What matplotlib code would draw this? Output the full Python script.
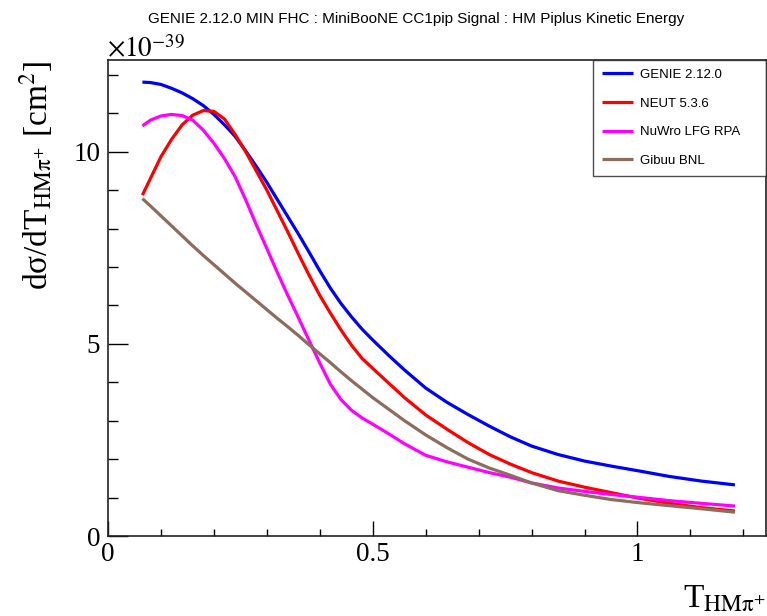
import matplotlib
matplotlib.use("Agg")
import matplotlib.pyplot as plt
from matplotlib.ticker import MultipleLocator

# ---- data (units of 1e-39 cm^2) ----
t_hm = [0.065, 0.08, 0.10, 0.12, 0.14, 0.16, 0.18, 0.20, 0.22, 0.24, 0.26, 0.28, 0.30,
        0.32, 0.34, 0.36, 0.38, 0.40, 0.42, 0.44, 0.46, 0.48, 0.50, 0.53, 0.56, 0.60,
        0.64, 0.68, 0.72, 0.76, 0.80, 0.85, 0.90, 0.95, 1.00, 1.06, 1.12, 1.184]
genie = [11.81, 11.80, 11.75, 11.65, 11.53, 11.38, 11.20, 10.97, 10.70, 10.40, 10.02, 9.62, 9.20,
         8.75, 8.30, 7.85, 7.38, 6.90, 6.45, 6.05, 5.70, 5.38, 5.10, 4.70, 4.32, 3.85,
         3.48, 3.16, 2.86, 2.58, 2.34, 2.12, 1.95, 1.82, 1.70, 1.55, 1.43, 1.33]
neut = [8.87, 9.30, 9.87, 10.32, 10.70, 10.95, 11.07, 11.05, 10.85, 10.45, 10.00, 9.50, 9.00,
        8.45, 7.90, 7.33, 6.78, 6.26, 5.80, 5.36, 4.96, 4.62, 4.36, 3.98, 3.60, 3.15,
        2.78, 2.43, 2.12, 1.87, 1.65, 1.43, 1.27, 1.13, 0.99, 0.85, 0.74, 0.65]
nuwro = [10.67, 10.82, 10.93, 10.97, 10.94, 10.82, 10.56, 10.22, 9.82, 9.35, 8.75, 8.10, 7.48,
         6.85, 6.25, 5.67, 5.08, 4.50, 3.95, 3.55, 3.27, 3.07, 2.91, 2.66, 2.40, 2.10,
         1.93, 1.79, 1.65, 1.53, 1.38, 1.25, 1.16, 1.08, 1.01, 0.92, 0.85, 0.78]
gibuu = [8.78, 8.59, 8.33, 8.07, 7.81, 7.55, 7.30, 7.06, 6.82, 6.58, 6.35, 6.12, 5.89,
         5.66, 5.44, 5.21, 4.97, 4.74, 4.51, 4.27, 4.04, 3.82, 3.60, 3.30, 3.00, 2.63,
         2.30, 2.00, 1.77, 1.58, 1.38, 1.18, 1.06, 0.95, 0.87, 0.79, 0.71, 0.62]
series_labels = ["GENIE 2.12.0", "NEUT 5.3.6", "NuWro LFG RPA", "Gibuu BNL"]
series_colors = ["#0000ff", "#ff0000", "#ff00ff", "#8c6c5c"]
title = "GENIE 2.12.0 MIN FHC : MiniBooNE CC1pip Signal : HM Piplus Kinetic Energy"

plt.rcParams["mathtext.fontset"] = "stix"
plt.rcParams["font.family"] = ["Liberation Serif", "DejaVu Serif"]

W, H = 767, 616
fig = plt.figure(figsize=(W / 100, H / 100), dpi=100)
L, R, T, B = 108, 766, 60, 536
ax = fig.add_axes([L / W, 1 - B / H, (R - L) / W, (B - T) / H])

for ys, lab, col in zip([genie, neut, nuwro, gibuu], series_labels, series_colors):
    ax.plot(t_hm, ys, color=col, lw=2.3, label=lab, solid_capstyle="butt")

ax.set_xlim(0, (R - L) / 529.5)
ax.set_ylim(0, (B - T) / 38.43)

ax.xaxis.set_major_locator(MultipleLocator(0.5))
ax.xaxis.set_minor_locator(MultipleLocator(0.1))
ax.yaxis.set_major_locator(MultipleLocator(5))
ax.yaxis.set_minor_locator(MultipleLocator(1))
ax.xaxis.set_major_formatter(plt.FuncFormatter(lambda v, p: f"{v:g}"))
ax.yaxis.set_major_formatter(plt.FuncFormatter(lambda v, p: f"{v:g}"))

ax.tick_params(axis="x", which="major", direction="in", length=10.8, width=1.0,
               labelsize=19.5, pad=4, top=False)
ax.tick_params(axis="x", which="minor", direction="in", length=5.4, width=1.0, top=False)
ax.tick_params(axis="y", which="major", direction="in", length=14.4, width=1.0,
               labelsize=19.5, pad=5.5, right=False)
ax.tick_params(axis="y", which="minor", direction="in", length=7.2, width=1.0, right=False)
for s in ax.spines.values():
    s.set_linewidth(1.2)
    s.set_color("#222222")

LB = 187
leg = ax.legend(loc="upper left",
                bbox_to_anchor=(593 / W, 1 - LB / H, (R - 593) / W, (LB - T) / H),
                bbox_transform=fig.transFigure, mode="expand", borderaxespad=0,
                prop={"family": "Liberation Sans", "size": 9.5}, frameon=True, fancybox=False,
                shadow=False, handlelength=2.4, handletextpad=0.5, labelspacing=1.25,
                borderpad=0.65)
leg.get_frame().set_edgecolor("#222222")
leg.get_frame().set_linewidth(1.0)
for h in leg.get_lines():
    h.set_linewidth(2.3)

fig.text(416 / W, 1 - 23 / H, title, ha="center", va="baseline",
         family="Liberation Sans", fontsize=11)
fig.text(107 / W, 1 - 57 / H, r"$\times10^{-39}$", ha="left", va="baseline", fontsize=19.5)
fig.text(36 / W, 1 - 60 / H,
         r"dσ/dT$_{\mathrm{HM}\mathrm{π}^{+}}$ [cm$^{2}$]",
         rotation=90, ha="center", va="top", fontsize=24)
fig.text(766 / W, 2 / H, r"T$_{\mathrm{HM}\mathrm{π}^{+}}$", ha="right", va="bottom", fontsize=24)

fig.savefig("out.png", dpi=100)
